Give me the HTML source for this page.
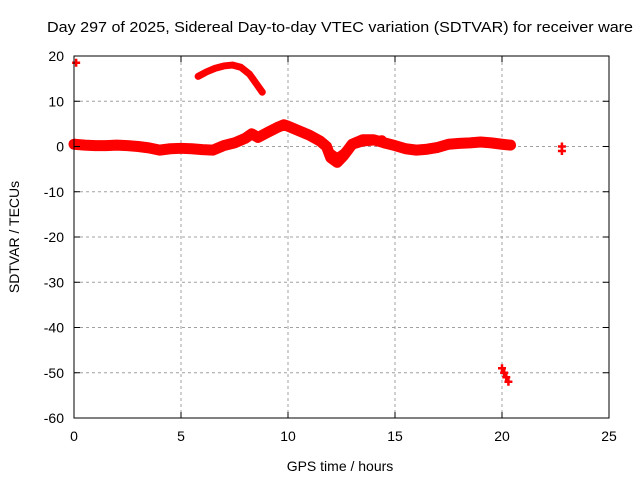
<!DOCTYPE html>
<html><head><meta charset="utf-8"><style>
body{margin:0;background:#fff}
svg{display:block;font-family:"Liberation Sans",sans-serif}
</style></head><body>
<svg id="chart" width="640" height="480" viewBox="0 0 640 480">
<rect width="640" height="480" fill="#fff"/>
<text x="47" y="32" font-size="15" textLength="586" lengthAdjust="spacingAndGlyphs">Day 297 of 2025, Sidereal Day-to-day VTEC variation (SDTVAR) for receiver ware</text>
<g id="grid"></g>
<g id="marks"></g>
<rect x="74" y="56" width="535" height="362" fill="none" stroke="#000" stroke-width="1"/>
<g id="ticks"></g>
<text x="340" y="471" font-size="14" text-anchor="middle">GPS time / hours</text>
<text transform="translate(19,237) rotate(-90)" font-size="14" text-anchor="middle">SDTVAR / TECUs</text>
</svg>
<script>
const xTicks=[0,5,10,15,20,25];
const yTicks=[20,10,0,-10,-20,-30,-40,-50,-60];
const mainT=[0,0.5,1,1.5,2,2.5,3,3.5,4,4.5,5,5.5,6,6.5,7,7.5,8,8.3,8.6,9,9.5,9.8,10,10.5,11,11.5,11.8,12,12.3,12.6,13,13.5,14,14.5,15,15.5,16,16.5,17,17.5,18,18.5,19,19.5,20,20.4];
const mainV=[0.5,0.3,0.2,0.2,0.3,0.2,0,-0.3,-0.8,-0.5,-0.4,-0.5,-0.7,-0.8,0.2,0.8,1.8,2.8,2.0,3.0,4.2,4.8,4.5,3.5,2.5,1.2,0,-2.5,-3.5,-2.0,0.5,1.5,1.5,0.8,0.2,-0.5,-0.8,-0.6,-0.2,0.5,0.7,0.8,1.0,0.8,0.5,0.3];
const sideT=[12,12.3,12.6,13,13.5,14,14.4];
const sideV=[-1.5,-2.5,-1.5,0.3,1.0,1.2,1.5];
const arcT=[5.8,6.2,6.6,7,7.4,7.8,8.2,8.5,8.8];
const arcV=[15.5,16.5,17.3,17.8,18,17.5,16,14,12];
const outT=[0.1,0.05,20,20.1,20.2,20.3,22.8,22.8];
const outV=[18.5,0.8,-49,-50,-51,-52,0,-1];
const X=t=>74+t*535/25, Y=v=>56+(20-v)*362/80;
const NS="http://www.w3.org/2000/svg";
function mk(tag,attrs,parent){const e=document.createElementNS(NS,tag);for(const k in attrs)e.setAttribute(k,attrs[k]);parent.appendChild(e);return e;}
const grid=document.getElementById('grid'),ticks=document.getElementById('ticks'),marks=document.getElementById('marks');
xTicks.forEach(t=>{
 if(t>0&&t<25){const g=mk('line',{x1:X(t),x2:X(t),y1:56,y2:418,stroke:'#a0a0a0','stroke-dasharray':'3,3'},grid);
 
 }
 mk('line',{x1:X(t),x2:X(t),y1:418,y2:412,stroke:'#000'},ticks);
 mk('line',{x1:X(t),x2:X(t),y1:56,y2:62,stroke:'#000'},ticks);
 const l=mk('text',{x:X(t),y:441,'font-size':14,'text-anchor':'middle'},ticks);l.textContent=t;
 
 
});
yTicks.forEach(v=>{
 if(v<20&&v>-60){const g=mk('line',{x1:74,x2:609,y1:Y(v),y2:Y(v),stroke:'#a0a0a0','stroke-dasharray':'3,3'},grid);
 
 }
 mk('line',{x1:74,x2:80,y1:Y(v),y2:Y(v),stroke:'#000'},ticks);
 mk('line',{x1:609,x2:603,y1:Y(v),y2:Y(v),stroke:'#000'},ticks);
 const l=mk('text',{x:64,y:Y(v)+5,'font-size':14,'text-anchor':'end'},ticks);l.textContent=v;
 
 
});
function trace(T,V,name,w){
 const p=mk('polyline',{points:T.map((t,i)=>X(t)+','+Y(V[i])).join(' '),fill:'none',stroke:'#f00','stroke-width':w,'stroke-linejoin':'round','stroke-linecap':'round'},marks);
 
 
}
trace(mainT,mainV,'main-series-band',11);
trace(sideT,sideV,'secondary-series-band',9);
trace(arcT,arcV,'arc-series',7);
outT.forEach((t,i)=>{
 const x=X(t),y=Y(outV[i]);
 const p=mk('path',{d:`M${x-4},${y}H${x+4}M${x},${y-4}V${y+4}`,stroke:'#f00','stroke-width':2.5},marks);
 
 
});
</script>
</body></html>
